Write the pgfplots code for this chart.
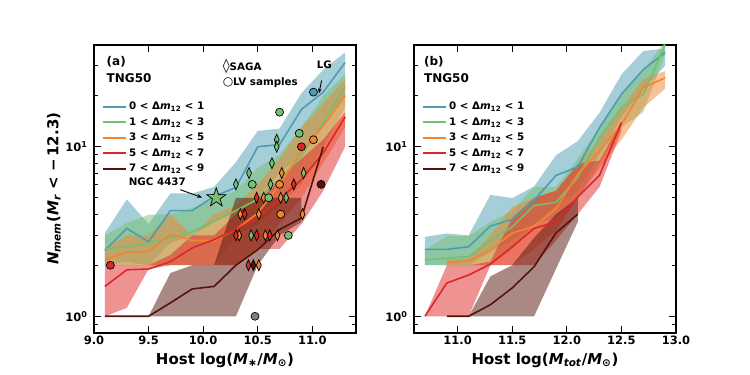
\documentclass[border=0pt]{standalone}
\usepackage{fontspec}
\setmainfont{DejaVu Sans}
\usepackage{pgfplots}
\usepackage{pgfplotstable}
\pgfplotsset{compat=1.18}
\usepgfplotslibrary{fillbetween}
\usetikzlibrary{arrows.meta}

\definecolor{cteal}{RGB}{75,158,178}
\definecolor{cgreen}{RGB}{116,192,110}
\definecolor{corange}{RGB}{242,133,50}
\definecolor{cred}{RGB}{222,38,38}
\definecolor{cbrown}{RGB}{85,20,10}
\definecolor{cgrey}{RGB}{128,128,128}

% panel (a): x  median  lower  upper
\pgfplotstableread{
x med lo hi
9.1 2.45 2.0 3.1
9.3 3.3 2.1 4.9
9.5 2.75 2.0 3.5
9.7 4.2 2.7 5.3
9.9 4.2 3.0 5.3
10.1 5.1 3.6 5.8
10.3 5.75 4.2 8.1
10.5 10.0 5.0 12.4
10.7 10.3 7.0 12.8
10.9 16.6 9.0 20.7
11.1 21.0 14.0 28.5
11.3 31.4 20.0 36.0
}\aTeal
\pgfplotstableread{
x med lo hi
9.1 2.5 2.0 3.0
9.3 2.56 2.0 3.55
9.5 2.7 2.0 3.97
9.7 2.9 2.0 4.0
9.9 3.15 2.0 4.35
10.1 3.63 2.0 4.9
10.3 4.2 3.0 5.5
10.5 4.9 3.5 7.5
10.7 6.4 4.5 9.0
10.9 8.8 6.0 13.0
11.1 13.8 10.0 20.0
11.3 22.4 17.0 27.0
}\aGreen
\pgfplotstableread{
x med lo hi
9.1 2.15 2.0 2.5
9.3 2.4 2.0 3.0
9.5 2.4 2.0 3.0
9.7 3.05 2.0 4.0
9.9 2.8 2.0 3.0
10.1 2.8 2.0 4.0
10.3 3.25 2.0 4.5
10.5 4.05 2.5 6.0
10.7 6.0 3.5 8.5
10.9 9.4 5.0 13.0
11.1 13.3 8.0 18.0
11.3 20.0 13.0 25.0
}\aOrange
\pgfplotstableread{
x med lo hi
9.1 1.5 1.0 2.0
9.3 1.88 1.12 2.0
9.5 1.9 1.9 2.0
9.7 2.1 2.0 2.3
9.9 2.53 2.0 3.0
10.1 2.83 2.0 3.0
10.3 3.25 2.0 4.0
10.5 3.8 2.5 5.0
10.7 4.9 2.5 6.5
10.9 6.4 3.5 8.5
11.1 9.2 5.5 11.0
11.3 15.0 10.0 16.0
}\aRed
\pgfplotstableread{
x med lo hi
9.1 1.0 1.0 1.0
9.3 1.0 1.0 1.0
9.5 1.0 1.0 1.0
9.7 1.2 1.0 1.8
9.9 1.45 1.0 2.0
10.1 1.5 1.0 2.0
10.3 2.0 1.0 5.0
10.5 2.47 2.0 5.0
10.7 3.25 3.0 5.0
10.9 3.8 3.6 5.0
}\aBrownBand
\pgfplotstableread{
x med
9.1 1.0
9.3 1.0
9.5 1.0
9.7 1.2
9.9 1.45
10.1 1.5
10.3 2.0
10.5 2.47
10.7 3.25
10.9 3.8
11.1 10.0
}\aBrownLine

% panel (b)
\pgfplotstableread{
x med lo hi
10.7 2.48 2.0 2.94
10.9 2.48 2.0 3.08
11.1 2.57 2.0 3.0
11.3 3.41 2.4 5.2
11.5 3.73 2.8 4.98
11.7 4.83 3.5 5.83
11.9 6.77 4.5 8.9
12.1 7.6 5.5 10.8
12.3 13.0 9.0 15.9
12.5 20.4 15.0 26.7
12.7 28.5 22.0 36.7
12.9 36.0 30.0 38.0
}\bTeal
\pgfplotstableread{
x med lo hi
10.7 2.15 2.0 2.45
10.9 2.2 2.0 2.97
11.1 2.25 2.0 2.97
11.3 2.8 2.0 3.6
11.5 3.37 2.5 4.2
11.7 4.5 3.5 5.8
11.9 4.7 3.8 5.8
12.1 6.6 5.0 8.5
12.3 11.3 8.0 13.0
12.5 17.0 13.0 20.0
12.7 20.4 16.0 28.0
12.9 40.0 35.0 42.0
}\bGreen
\pgfplotstableread{
x med lo hi
10.9 2.08 2.0 2.15
11.1 2.12 2.0 2.2
11.3 2.46 2.0 3.0
11.5 3.1 2.0 4.4
11.7 3.4 2.5 5.0
11.9 4.3 3.2 5.5
12.1 6.9 5.0 7.8
12.3 9.5 7.5 11.0
12.5 13.5 11.0 17.0
12.7 22.3 17.0 25.0
12.9 25.5 22.0 28.0
}\bOrange
\pgfplotstableread{
x med lo hi
10.7 1.0 1.0 1.0
10.9 1.57 1.0 2.0
11.1 1.75 1.0 2.0
11.3 2.03 2.0 2.1
11.5 2.57 2.0 3.8
11.7 3.3 2.0 5.0
11.9 3.6 2.8 5.5
12.1 5.05 4.0 7.9
12.3 6.8 5.8 8.3
12.5 13.9 12.4 14.2
}\bRed
\pgfplotstableread{
x med lo hi
10.9 1.0 1.0 1.0
11.1 1.0 1.0 1.0
11.3 1.17 1.0 1.72
11.5 1.47 1.0 2.0
11.7 1.96 1.0 2.9
11.9 3.1 1.9 4.0
12.1 4.0 3.6 5.0
}\bBrown

% band + median line of one group
\newcommand{\grp}[4]{%
  \addplot[draw=none, name path=hi#4, forget plot] table[x=x, y=hi] {#1};
  \addplot[draw=none, name path=lo#4, forget plot] table[x=x, y=lo] {#1};
  \addplot[fill=#3, fill opacity=0.5, draw=none, forget plot] fill between[of=hi#4 and lo#4];
  \addplot[#3, line width=1.6pt, forget plot] table[x=x, y=med] {#2};
}

\pgfdeclareplotmark{fivestar}{%
  \pgfpathmoveto{\pgfpointpolar{90}{\pgfplotmarksize}}%
  \pgfpathlineto{\pgfpointpolar{126}{0.4\pgfplotmarksize}}%
  \pgfpathlineto{\pgfpointpolar{162}{\pgfplotmarksize}}%
  \pgfpathlineto{\pgfpointpolar{198}{0.4\pgfplotmarksize}}%
  \pgfpathlineto{\pgfpointpolar{234}{\pgfplotmarksize}}%
  \pgfpathlineto{\pgfpointpolar{270}{0.4\pgfplotmarksize}}%
  \pgfpathlineto{\pgfpointpolar{306}{\pgfplotmarksize}}%
  \pgfpathlineto{\pgfpointpolar{342}{0.4\pgfplotmarksize}}%
  \pgfpathlineto{\pgfpointpolar{18}{\pgfplotmarksize}}%
  \pgfpathlineto{\pgfpointpolar{54}{0.4\pgfplotmarksize}}%
  \pgfpathclose
  \pgfusepathqfillstroke
}

\pgfplotsset{
  legend image code/.code={\draw[#1] (0pt,0pt) -- (23pt,0pt);},
  diam/.style={only marks, mark=diamond*, mark size=5.5pt,
    mark options={xscale=0.6, fill=#1, draw=black, line width=0.7pt}, forget plot},
  circ/.style={only marks, mark=*, mark size=4pt,
    mark options={fill=#1, draw=black, line width=0.7pt}, forget plot},
}

\newcommand{\legendset}{%
  \addlegendimage{cteal, line width=2pt}\addlegendentry{0 < Δ\textit{m}\textsubscript{12} < 1}
  \addlegendimage{cgreen, line width=2pt}\addlegendentry{1 < Δ\textit{m}\textsubscript{12} < 3}
  \addlegendimage{corange, line width=2pt}\addlegendentry{3 < Δ\textit{m}\textsubscript{12} < 5}
  \addlegendimage{cred, line width=2pt}\addlegendentry{5 < Δ\textit{m}\textsubscript{12} < 7}
  \addlegendimage{cbrown, line width=2pt}\addlegendentry{7 < Δ\textit{m}\textsubscript{12} < 9}
}

\begin{document}
\begin{tikzpicture}

% ---------------- panel (a)
\begin{axis}[at={(94pt,42.3pt)}, anchor=south west,
  scale only axis, width=262pt, height=288pt,
  ymode=log, ymin=0.8, ymax=40,
  ytick={1,10}, yticklabels={10\textsuperscript{0},10\textsuperscript{1}},
  minor ytick={0.9,2,3,4,5,6,7,8,9,20,30,40},
  xmin=9.0, xmax=11.4, xtick={9,9.5,10,10.5,11},
  axis line style={line width=1.8pt},
  tick align=inside, major tick length=7pt, minor tick length=4pt,
  tick style={black, line width=0.9pt},
  xticklabel style={/pgf/number format/fixed, /pgf/number format/fixed zerofill, /pgf/number format/precision=1, /pgf/number format/assume math mode=true},
  tick label style={font=\bfseries\fontsize{11.5}{13}\selectfont},
  yticklabel style={xshift=-3pt},
  legend style={at={(0.03,0.808)}, anchor=north west, draw=none, fill=none,
    font=\bfseries\fontsize{10.3}{12}\selectfont, row sep=2.4pt, inner sep=0pt},
  legend cell align=left,
  xlabel={Host log(\textit{M}\textsubscript{∗}/\textit{M}\textsubscript{⊙})},
  xlabel style={font=\bfseries\fontsize{15}{17}\selectfont, at={(axis description cs:0.5,-0.095)}, anchor=center},
  ylabel={\textit{N}\textsubscript{\textit{mem}}(\textit{M}\textsubscript{\textit{r}} < −\,12.3)},
  ylabel style={font=\bfseries\fontsize{15}{17}\selectfont, at={(axis description cs:-0.153,0.5)}, anchor=center},
]
\legendset
\grp{\aTeal}{\aTeal}{cteal}{a1}
\grp{\aGreen}{\aGreen}{cgreen}{a2}
\grp{\aOrange}{\aOrange}{corange}{a3}
\grp{\aRed}{\aRed}{cred}{a4}
\grp{\aBrownBand}{\aBrownLine}{cbrown}{a5}

% SAGA hosts
\addplot[diam=cgreen] coordinates {(10.30,6) (10.42,7) (10.63,8) (10.617,6) (10.674,11) (10.674,10) (10.92,7) (10.44,3) (10.76,5)};
\addplot[diam=corange] coordinates {(10.72,7) (10.555,5) (10.71,5) (10.34,4) (10.51,4) (10.91,4) (10.33,3) (10.57,3) (10.68,3) (10.51,2)};
\addplot[diam=cred] coordinates {(10.83,6) (10.49,5) (10.38,4) (10.30,3) (10.49,3) (10.61,3) (10.415,2)};
\addplot[diam=cbrown] coordinates {(10.46,2)};
% LV hosts
\addplot[circ=cred] coordinates {(9.15,2) (10.90,10)};
\addplot[circ=cgrey] coordinates {(10.475,1)};
\addplot[circ=cbrown] coordinates {(11.08,6)};
\addplot[circ=cteal] coordinates {(11.01,21)};
\addplot[circ=cgreen] coordinates {(10.70,16) (10.88,12) (10.45,6) (10.60,5) (10.78,3)};
\addplot[circ=corange] coordinates {(11.01,11) (10.70,6) (10.71,4)};
% NGC 4437
\addplot[only marks, mark=fivestar, mark size=10pt, mark options={fill=cgreen, draw=black, line width=0.7pt}, forget plot] coordinates {(10.12,5)};

\draw[-{Stealth[length=5pt]}, line width=0.9pt] (axis cs:9.79,5.58) -- (axis cs:9.99,5.02);
\node[font=\bfseries\fontsize{10.3}{12}\selectfont] at (axis cs:9.58,6.2) {NGC 4437};
\draw[-{Stealth[length=5pt]}, line width=0.9pt] (axis cs:11.085,24.6) -- (axis cs:11.06,20.6);
\node[font=\bfseries\fontsize{10.3}{12}\selectfont] at (axis cs:11.11,30.6) {LG};
\node[anchor=west, font=\bfseries\fontsize{10.3}{12}\selectfont] at (rel axis cs:0.478,0.926) {{\fontsize{14}{14}\selectfont ◊}SAGA};
\node[anchor=west, font=\bfseries\fontsize{10.3}{12}\selectfont] at (rel axis cs:0.478,0.868) {{\fontsize{12}{12}\selectfont ○}LV samples};
\node[anchor=west, font=\bfseries\fontsize{12}{14}\selectfont] at (rel axis cs:0.035,0.94) {(a)};
\node[anchor=west, font=\bfseries\fontsize{12}{14}\selectfont] at (rel axis cs:0.035,0.884) {TNG50};
\end{axis}

% ---------------- panel (b)
\begin{axis}[at={(414pt,42.3pt)}, anchor=south west,
  scale only axis, width=262pt, height=288pt,
  ymode=log, ymin=0.8, ymax=40,
  ytick={1,10}, yticklabels={10\textsuperscript{0},10\textsuperscript{1}},
  minor ytick={0.9,2,3,4,5,6,7,8,9,20,30,40},
  xmin=10.6, xmax=13.0, xtick={11,11.5,12,12.5,13},
  axis line style={line width=1.8pt},
  tick align=inside, major tick length=7pt, minor tick length=4pt,
  tick style={black, line width=0.9pt},
  xticklabel style={/pgf/number format/fixed, /pgf/number format/fixed zerofill, /pgf/number format/precision=1, /pgf/number format/assume math mode=true},
  tick label style={font=\bfseries\fontsize{11.5}{13}\selectfont},
  yticklabel style={xshift=-3pt},
  legend style={at={(0.03,0.808)}, anchor=north west, draw=none, fill=none,
    font=\bfseries\fontsize{10.3}{12}\selectfont, row sep=2.4pt, inner sep=0pt},
  legend cell align=left,
  xlabel={Host log(\textit{M}\textsubscript{\textit{tot}}/\textit{M}\textsubscript{⊙})},
  xlabel style={font=\bfseries\fontsize{15}{17}\selectfont, at={(axis description cs:0.5,-0.095)}, anchor=center},
]
\legendset
\grp{\bTeal}{\bTeal}{cteal}{b1}
\grp{\bGreen}{\bGreen}{cgreen}{b2}
\grp{\bOrange}{\bOrange}{corange}{b3}
\grp{\bRed}{\bRed}{cred}{b4}
\grp{\bBrown}{\bBrown}{cbrown}{b5}
\node[anchor=west, font=\bfseries\fontsize{12}{14}\selectfont] at (rel axis cs:0.025,0.94) {(b)};
\node[anchor=west, font=\bfseries\fontsize{12}{14}\selectfont] at (rel axis cs:0.025,0.884) {TNG50};
\end{axis}
\path (0,0) rectangle (750pt,375pt);
\end{tikzpicture}
\end{document}
